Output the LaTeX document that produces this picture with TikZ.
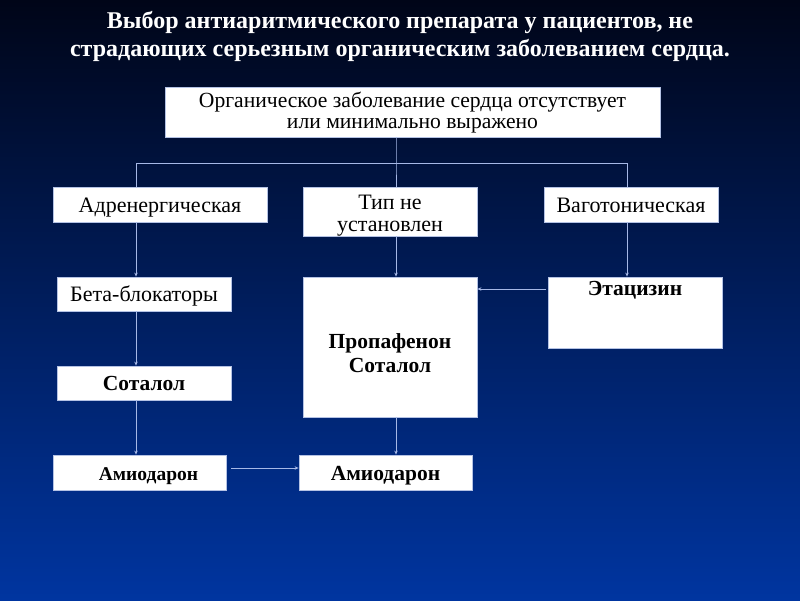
\documentclass[tikz,border=0pt]{standalone}
\usepackage{fontspec}
\setmainfont{Liberation Serif}
\usetikzlibrary{arrows.meta}
\definecolor{bgtop}{HTML}{000518}
\definecolor{bgmid}{HTML}{062A8E}
\definecolor{bgbot}{HTML}{0035A0}
\definecolor{edge}{HTML}{B4C2E4}
\definecolor{conn}{HTML}{A6B8E6}
\newcommand\twolines[3]{\vtop{\baselineskip=#3\lineskiplimit=-100pt\halign{\hfil##\hfil\cr #1\cr #2\cr}}}
\tikzset{
  box/.style={draw=edge, fill=white, line width=0.8pt, inner sep=0pt, align=center,
    font=\fontsize{22}{24}\selectfont, text=black},
  boldbox/.style={box, font=\fontsize{21.5}{25}\selectfont\bfseries},
  conline/.style={draw=conn, line width=1pt},
  conarrow/.style={conline, -{Stealth[length=4pt,width=3.5pt]}},
  titletext/.style={text=white, font=\fontsize{24}{28}\selectfont\bfseries, align=center}
}
\begin{document}
\begin{tikzpicture}[x=1pt,y=-1pt]
\shade[top color=bgtop, middle color=bgmid, bottom color=bgbot] (0,0) rectangle (800,600);
\useasboundingbox (0,0) rectangle (800,600);

\node[titletext] (title) at (400,36) {Выбор антиаритмического препарата у пациентов, не\\страдающих серьезным органическим заболеванием сердца.};

\node[box, minimum width=495pt, minimum height=50pt, text height=20.6pt, text depth=29.4pt, font=\fontsize{21.6}{24}\selectfont] (top) at (412.5,112)
  {\twolines{Органическое заболевание сердца отсутствует}{или минимально выражено}{20.5pt}};
\node[box, minimum width=214pt, minimum height=35pt, text height=25.7pt, text depth=9.3pt] (adr) at (160,204.5) {Адренергическая};
\node[box, minimum width=174pt, minimum height=49pt, text height=22.6pt, text depth=26.4pt] (tip) at (390,211.5)
  {\twolines{Тип не}{установлен}{21.5pt}};
\node[box, minimum width=174pt, minimum height=35pt, text height=25.7pt, text depth=9.3pt] (vag) at (631,204.5) {Ваготоническая};
\node[box, minimum width=174pt, minimum height=34pt, text height=24.7pt, text depth=9.3pt] (beta) at (144,294) {Бета-блокаторы};
\node[boldbox, minimum width=174pt, minimum height=140pt, text height=71.3pt, text depth=68.7pt] (prop) at (390,347)
  {\twolines{Пропафенон}{Соталол}{24.4pt}};
\node[boldbox, minimum width=174pt, minimum height=71pt, text height=18pt, text depth=53pt] (etac) at (635,312.5) {Этацизин};
\node[boldbox, minimum width=174pt, minimum height=34pt, text height=24.7pt, text depth=9.3pt] (sot) at (144,383) {Соталол};
\node[boldbox, minimum width=173pt, minimum height=35pt, text height=25pt, text depth=10pt, font=\fontsize{19.5}{22}\selectfont\bfseries] (amL) at (139.5,472.5) {\hspace*{18pt}Амиодарон};
\node[boldbox, minimum width=173pt, minimum height=35pt, text height=25pt, text depth=10pt] (amR) at (385.5,472.5) {Амиодарон};

\coordinate (j) at (396,163);
\coordinate (hl) at (136,163);
\coordinate (hr) at (627,163);
\coordinate (ea) at (0,289);
\coordinate (aa) at (0,468);

\draw[conline] (top.south -| j) -- (j) -- (j |- tip.north);
\draw[conline] (adr.north -| hl) -- (hl) -- (hr) -- (vag.north -| hr);
\draw[conarrow] (adr.south -| hl) -- (beta.north -| hl);
\draw[conarrow] (tip.south -| j) -- (prop.north -| j);
\draw[conarrow] (vag.south -| hr) -- (etac.north -| hr);
\draw[conarrow] (beta.south -| hl) -- (sot.north -| hl);
\draw[conarrow] (sot.south -| hl) -- (amL.north -| hl);
\draw[conarrow] (prop.south -| j) -- (amR.north -| j);
\draw[conarrow] ([xshift=-2pt]etac.west |- ea) -- (prop.east |- ea);
\draw[conarrow] ([xshift=5pt]amL.east |- aa) -- (amR.west |- aa);
\end{tikzpicture}
\end{document}
